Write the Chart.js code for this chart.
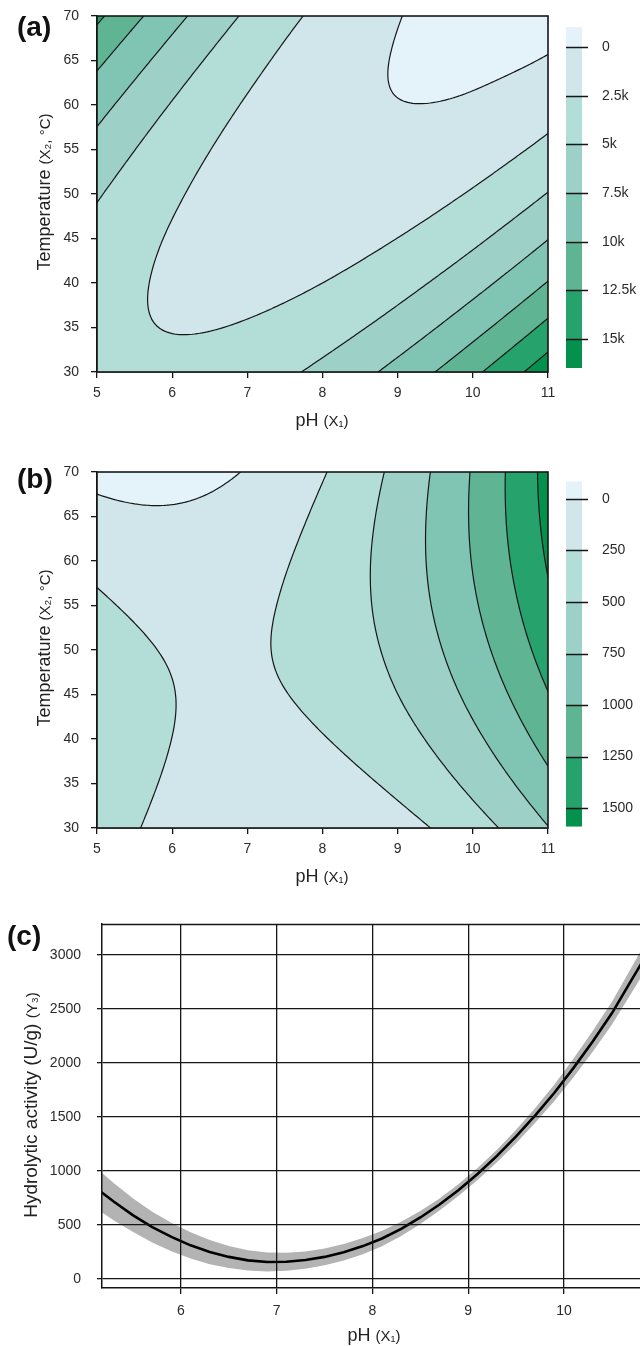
<!DOCTYPE html>
<html>
<head>
<meta charset="utf-8">
<title>Response surfaces</title>
<script src="https://cdn.jsdelivr.net/npm/chart.js@4.4.1/dist/chart.umd.min.js"></script>
<style>
  html, body { margin: 0; padding: 0; background: #fff; }
  body { position: relative; width: 640px; height: 1346px; overflow: hidden;
         font-family: "Liberation Sans", Arial, Helvetica, sans-serif; color: #222; }
  canvas { position: absolute; left: 0; }
  .tag { position: absolute; font-weight: bold; font-size: 28px; line-height: 1; color: #111; }
  .ttl { position: absolute; white-space: nowrap; font-size: 18px; line-height: 1; color: #222;
         transform: translate(-50%, -50%); }
  .ttl.v { transform: translate(-50%, -50%) rotate(-90deg); }
  .ttl.big { font-size: 19px; }
  .ttl small { font-size: 15px; }
</style>
</head>
<body>
<canvas id="chartA" width="640" height="440" style="top:0"></canvas>
<canvas id="chartB" width="640" height="440" style="top:456px"></canvas>
<canvas id="chartC" width="640" height="446" style="top:900px"></canvas>

<div class="tag" style="left:17px;top:13px">(a)</div>
<div class="tag" style="left:17px;top:465px">(b)</div>
<div class="tag" style="left:7px;top:922px">(c)</div>

<div class="ttl v" style="left:44px;top:192px">Temperature <small>(X₂, °C)</small></div>
<div class="ttl" style="left:322px;top:420px">pH <small>(X₁)</small></div>
<div class="ttl v" style="left:44px;top:648px">Temperature <small>(X₂, °C)</small></div>
<div class="ttl" style="left:322px;top:876px">pH <small>(X₁)</small></div>
<div class="ttl v big" style="left:30px;top:1105px">Hydrolytic activity (U/g) <small>(Y₃)</small></div>
<div class="ttl" style="left:374px;top:1335px">pH <small>(X₁)</small></div>

<script>
// grid axes of the two response surfaces (also the tick values)
const phValues = [5, 6, 7, 8, 9, 10, 11];
const tempValues = [30, 35, 40, 45, 50, 55, 60, 65, 70];

// (a) rows = temperature 30 -> 70, columns = pH 5 -> 11
const surfaceA = [
  [3200, 3040, 3840, 5590, 8300, 11960, 16580],
  [3170, 2440, 2680, 3870, 6010, 9110, 13170],
  [3490, 2210, 1880, 2500, 4090, 6620, 10120],
  [4180, 2330, 1440, 1500, 2520, 4490, 7430],
  [5230, 2820, 1360, 860, 1310, 2720, 5090],
  [6640, 3660, 1640, 570, 460, 1310, 3120],
  [8400, 4860, 2280, 650, 40, 260, 1500],
  [10530, 6420, 3280, 1080, -90, -430, 140],
  [13010, 8340, 4630, 1880, 80, -770, -650],
];
const levelsA = [0, 2500, 5000, 7500, 10000, 12500, 15000];
const cbLabelsA = ['0', '2.5k', '5k', '7.5k', '10k', '12.5k', '15k'];
const cbRangeA = [-1020, 16480];
const cbAxisA = [-1591, 16684];

// (b) rows = temperature 30 -> 70, columns = pH 5 -> 11
const surfaceB = [
  [400, 166, 49, 48, 163, 394, 741],
  [426, 220, 130, 157, 299, 558, 932],
  [428, 249, 187, 241, 411, 697, 1099],
  [405, 254, 220, 301, 499, 812, 1241],
  [358, 235, 228, 337, 561, 902, 1359],
  [286, 191, 211, 347, 600, 968, 1453],
  [190, 122, 170, 334, 614, 1010, 1522],
  [70, 29, 104, 296, 603, 1027, 1566],
  [-76, -89, 14, 233, 568, 1019, 1586],
];
const levelsB = [0, 250, 500, 750, 1000, 1250, 1500];
const cbLabelsB = ['0', '250', '500', '750', '1000', '1250', '1500'];
const cbRangeB = [-85, 1590];
const cbAxisB = [-131, 1597];

const bandColors = ['#e4f2fa', '#d0e6ea', '#b3ddd7', '#9dd1c7', '#80c4b3', '#5fb493', '#26a26c', '#04904d'];

// (c) predicted activity and its band
const phC = [5.1, 5.3, 5.5, 5.7, 5.9, 6.1, 6.3, 6.5, 6.7, 6.9, 7.1, 7.3, 7.5, 7.7, 7.9,
             8.1, 8.3, 8.5, 8.7, 8.9, 9.1, 9.3, 9.5, 9.7, 9.9, 10.1, 10.3, 10.5, 10.7, 10.9];
const activityC = [850, 715, 590, 480, 390, 312, 250, 205, 173, 158, 160, 176, 205, 248, 305,
                   375, 465, 570, 690, 825, 975, 1140, 1320, 1515, 1725, 1955, 2200, 2460, 2760, 3060];
const upperC = [1040, 887, 745, 622, 522, 434, 362, 307, 267, 246, 244, 256, 283, 324, 380,
                447, 531, 630, 746, 879, 1030, 1198, 1382, 1583, 1801, 2041, 2296, 2566, 2878, 3190];
const lowerC = [660, 543, 435, 338, 258, 190, 138, 103, 79, 70, 76, 96, 127, 172, 230,
                303, 399, 510, 634, 771, 920, 1082, 1258, 1447, 1649, 1869, 2104, 2354, 2642, 2930];
const xTicksC = [6, 7, 8, 9, 10];
const yTicksC = [0, 500, 1000, 1500, 2000, 2500, 3000];

Chart.defaults.font.family = '"Liberation Sans", Arial, Helvetica, sans-serif';
Chart.defaults.font.size = 14;
Chart.defaults.color = '#2a2a2a';

const INK = '#161616';

// fixed axis box, no extra label padding pushed into the layout
const fixBox = (w, h) => s => {
  if (w != null) s.width = w;
  if (h != null) s.height = h;
  s.paddingTop = 0; s.paddingBottom = 0; s.paddingLeft = 0; s.paddingRight = 0;
};

// smooth field through the grid nodes (Catmull-Rom, quadratic end extension)
function makeField(grid) {
  const nx = grid[0].length, ny = grid.length;
  const ext = (a0, a1, a2) => 3 * a0 - 3 * a1 + a2;
  const rowNode = (j, i) => {
    if (i === -1) return ext(grid[j][0], grid[j][1], grid[j][2]);
    if (i === nx) return ext(grid[j][nx - 1], grid[j][nx - 2], grid[j][nx - 3]);
    return grid[j][i];
  };
  const node = (i, j) => {
    if (j === -1) return ext(rowNode(0, i), rowNode(1, i), rowNode(2, i));
    if (j === ny) return ext(rowNode(ny - 1, i), rowNode(ny - 2, i), rowNode(ny - 3, i));
    return rowNode(j, i);
  };
  const P = [];
  for (let j = -1; j <= ny; j++) {
    const row = [];
    for (let i = -1; i <= nx; i++) row.push(node(i, j));
    P.push(row);
  }
  const cr = (p0, p1, p2, p3, t) =>
    p1 + 0.5 * t * (p2 - p0 + t * (2 * p0 - 5 * p1 + 4 * p2 - p3 + t * (3 * (p1 - p2) + p3 - p0)));
  const dx = phValues[1] - phValues[0], dy = tempValues[1] - tempValues[0];
  return (ph, temp) => {
    const gx = (ph - phValues[0]) / dx, gy = (temp - tempValues[0]) / dy;
    const i0 = Math.min(Math.max(Math.floor(gx), 0), nx - 2);
    const j0 = Math.min(Math.max(Math.floor(gy), 0), ny - 2);
    const t = gx - i0, s = gy - j0;
    const r = [];
    for (let k = 0; k < 4; k++) {
      const row = P[j0 + k];
      r.push(cr(row[i0], row[i0 + 1], row[i0 + 2], row[i0 + 3], t));
    }
    return cr(r[0], r[1], r[2], r[3], s);
  };
}

function hexRgb(h) {
  const n = parseInt(h.slice(1), 16);
  return [n >> 16, (n >> 8) & 255, n & 255];
}

function contourPlugin(surface, levels, cbRange) {
  const field = makeField(surface);
  const rgb = bandColors.map(hexRgb);
  const band = z => { let k = 0; while (k < levels.length && z >= levels[k]) k++; return k; };
  return {
    id: 'contour',
    beforeDatasetsDraw(chart) {
      const { ctx, chartArea: a, scales: { x, y } } = chart;
      const w = Math.round(a.right - a.left), h = Math.round(a.bottom - a.top);
      const off = document.createElement('canvas');
      off.width = w; off.height = h;
      const octx = off.getContext('2d');
      const img = octx.createImageData(w, h);
      const xv = [];
      for (let px = 0; px < w; px++) xv.push(x.getValueForPixel(a.left + px + 0.5));
      for (let py = 0; py < h; py++) {
        const t = y.getValueForPixel(a.top + py + 0.5);
        for (let px = 0; px < w; px++) {
          const c = rgb[band(field(xv[px], t))];
          const o = (py * w + px) * 4;
          img.data[o] = c[0]; img.data[o + 1] = c[1]; img.data[o + 2] = c[2]; img.data[o + 3] = 255;
        }
      }
      octx.putImageData(img, 0, 0);
      ctx.drawImage(off, a.left, a.top);
    },
    afterDatasetsDraw(chart) {
      const { ctx, chartArea: a, scales: { x, y, cb } } = chart;
      const nx = 180, ny = 140;
      const xs = [], ys = [], px = [], py = [];
      for (let i = 0; i <= nx; i++) { xs.push(x.min + (x.max - x.min) * i / nx); px.push(x.getPixelForValue(xs[i])); }
      for (let j = 0; j <= ny; j++) { ys.push(y.min + (y.max - y.min) * j / ny); py.push(y.getPixelForValue(ys[j])); }
      const V = ys.map(t => xs.map(p => field(p, t)));

      ctx.save();
      ctx.beginPath();
      ctx.rect(a.left, a.top, a.right - a.left, a.bottom - a.top);
      ctx.clip();
      ctx.beginPath();
      levels.forEach(L => {
        for (let j = 0; j < ny; j++) {
          for (let i = 0; i < nx; i++) {
            const c = [[i, j], [i + 1, j], [i + 1, j + 1], [i, j + 1]];
            const v = c.map(([ci, cj]) => V[cj][ci]);
            const pts = [];
            for (let e = 0; e < 4; e++) {
              const va = v[e], vb = v[(e + 1) % 4];
              if ((va >= L) !== (vb >= L)) {
                const f = (L - va) / (vb - va);
                const A = c[e], B = c[(e + 1) % 4];
                pts.push([px[A[0]] + f * (px[B[0]] - px[A[0]]), py[A[1]] + f * (py[B[1]] - py[A[1]])]);
              }
            }
            if (pts.length === 2) {
              ctx.moveTo(pts[0][0], pts[0][1]); ctx.lineTo(pts[1][0], pts[1][1]);
            } else if (pts.length === 4) {
              const mid = (v[0] + v[1] + v[2] + v[3]) / 4;
              const pairs = ((mid >= L) !== (v[1] >= L)) ? [[0, 1], [2, 3]] : [[0, 3], [1, 2]];
              pairs.forEach(([p, q]) => { ctx.moveTo(pts[p][0], pts[p][1]); ctx.lineTo(pts[q][0], pts[q][1]); });
            }
          }
        }
      });
      ctx.lineWidth = 1.2;
      ctx.lineCap = 'round';
      ctx.strokeStyle = INK;
      ctx.stroke();
      ctx.restore();

      // frame
      ctx.save();
      ctx.lineWidth = 1.6;
      ctx.strokeStyle = INK;
      ctx.strokeRect(a.left, a.top, a.right - a.left, a.bottom - a.top);

      // colour bar
      const bx = a.right + 18, bw = 16;
      for (let k = 0; k <= levels.length; k++) {
        const lo = k === 0 ? cbRange[0] : levels[k - 1];
        const hi = k === levels.length ? cbRange[1] : levels[k];
        const y0 = cb.getPixelForValue(lo), y1 = cb.getPixelForValue(hi);
        ctx.fillStyle = bandColors[k];
        ctx.fillRect(bx, y0, bw, y1 - y0);
      }
      ctx.beginPath();
      levels.forEach(L => {
        const yy = Math.round(cb.getPixelForValue(L)) + 0.5;
        ctx.moveTo(bx, yy); ctx.lineTo(bx + 22, yy);
      });
      ctx.lineWidth = 1.5;
      ctx.stroke();
      ctx.restore();
    }
  };
}

function contourChart(id, surface, levels, cbLabels, cbRange, cbAxis) {
  const tickGrid = { drawOnChartArea: false, drawTicks: true, tickLength: 6, color: INK, lineWidth: 1.3 };
  return new Chart(document.getElementById(id), {
    type: 'scatter',
    data: { datasets: [] },
    options: {
      responsive: false,
      animation: false,
      devicePixelRatio: 1,
      layout: { padding: { top: 16, left: 0, right: 0, bottom: 0 } },
      plugins: { legend: { display: false }, tooltip: { enabled: false } },
      scales: {
        x: {
          type: 'linear', min: phValues[0], max: phValues[phValues.length - 1],
          afterBuildTicks: s => { s.ticks = phValues.map(v => ({ value: v })); },
          grid: tickGrid,
          border: { color: INK, width: 1.5 },
          ticks: { padding: 7, font: { size: 14 } },
          afterFit: fixBox(null, 68)
        },
        y: {
          type: 'linear', min: tempValues[0], max: tempValues[tempValues.length - 1],
          afterBuildTicks: s => { s.ticks = tempValues.map(v => ({ value: v })); },
          grid: tickGrid,
          border: { color: INK, width: 1.5 },
          ticks: { padding: 12, font: { size: 14 } },
          afterFit: fixBox(97, null)
        },
        cb: {
          type: 'linear', position: 'right', reverse: true, min: cbAxis[0], max: cbAxis[1],
          afterBuildTicks: s => { s.ticks = levels.map(v => ({ value: v })); },
          grid: { display: false, drawTicks: false },
          border: { display: false },
          ticks: { padding: 54, font: { size: 14 }, callback: (v, i) => cbLabels[i] },
          afterFit: fixBox(92, null)
        }
      }
    },
    plugins: [contourPlugin(surface, levels, cbRange)]
  });
}

contourChart('chartA', surfaceA, levelsA, cbLabelsA, cbRangeA, cbAxisA);
contourChart('chartB', surfaceB, levelsB, cbLabelsB, cbRangeB, cbAxisB);

// (c) activity vs pH
const topLine = {
  id: 'topLine',
  afterDraw(chart) {
    const { ctx, chartArea: a } = chart;
    ctx.save();
    ctx.beginPath();
    ctx.moveTo(a.left, a.top + 0.5);
    ctx.lineTo(a.right, a.top + 0.5);
    ctx.lineWidth = 1.5;
    ctx.strokeStyle = INK;
    ctx.stroke();
    ctx.restore();
  }
};

const xy = ys => phC.map((p, i) => ({ x: p, y: ys[i] }));
const gridC = { color: INK, lineWidth: 1.3, tickLength: 6, z: 1 };

new Chart(document.getElementById('chartC'), {
  type: 'line',
  data: {
    datasets: [
      { data: xy(lowerC), borderWidth: 0, pointRadius: 0, fill: false, clip: 0, order: 2 },
      { data: xy(upperC), borderWidth: 0, pointRadius: 0, fill: 0, backgroundColor: '#b3b3b3', clip: 0, order: 1 },
      { data: xy(activityC), borderColor: '#000', borderWidth: 2.6, pointRadius: 0, fill: false, clip: 0, order: -1 }
    ]
  },
  options: {
    responsive: false,
    animation: false,
    devicePixelRatio: 1,
    layout: { padding: { top: 24, left: 0, right: 0, bottom: 0 } },
    plugins: { legend: { display: false }, tooltip: { enabled: false } },
    scales: {
      x: {
        type: 'linear', min: 5.175, max: 10.794,
        afterBuildTicks: s => { s.ticks = xTicksC.map(v => ({ value: v })); },
        grid: gridC,
        border: { color: INK, width: 1.5, z: 1 },
        ticks: { padding: 9, font: { size: 14 }, callback: v => String(v) },
        afterFit: fixBox(null, 58)
      },
      y: {
        type: 'linear', min: -83, max: 3287,
        afterBuildTicks: s => { s.ticks = yTicksC.map(v => ({ value: v })); },
        grid: Object.assign({}, gridC, { tickLength: 5 }),
        border: { color: INK, width: 1.5, z: 1 },
        ticks: { padding: 16, font: { size: 14 }, callback: v => String(v) },
        afterFit: fixBox(102, null)
      }
    }
  },
  plugins: [topLine]
});
</script>
</body>
</html>
